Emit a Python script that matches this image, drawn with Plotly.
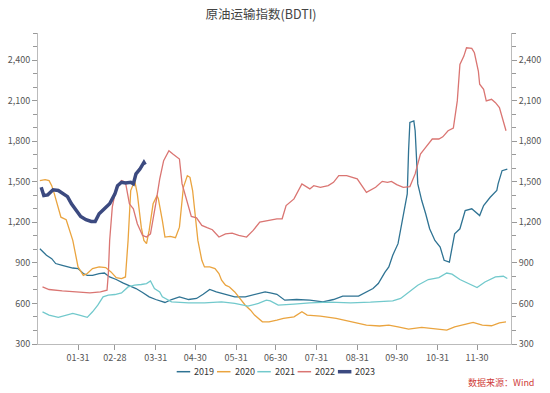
import datetime as dt
import plotly.graph_objects as go

# ---- data (day of year, value) ----
days_2019 = [2, 7, 11, 14, 19, 23, 27, 31, 35, 38, 42, 47, 51, 55, 60, 65, 70, 75, 80, 85, 90, 97, 102, 108, 115,
             121, 126, 131, 136, 143, 150, 158, 165, 173, 177, 182, 188, 197, 207, 217, 225, 232, 244, 250, 255,
             259, 262, 264, 267, 270, 274, 277, 279, 281, 282, 283, 286, 287, 289, 292, 295, 298, 302, 306, 309,
             313, 317, 321, 325, 330, 336, 339, 344, 349, 350, 353, 357]
vals_2019 = [1005, 956, 931, 895, 882, 870, 862, 858, 821, 808, 808, 821, 825, 796, 777, 752, 730, 710, 681, 649,
             629, 607, 629, 649, 629, 637, 668, 703, 685, 668, 649, 649, 668, 685, 678, 668, 624, 629, 624, 612,
             629, 654, 654, 685, 710, 747, 800, 830, 870, 956, 1042, 1189, 1287, 1410, 1729, 1938, 1950, 1877,
             1484, 1361, 1263, 1152, 1066, 1017, 919, 906, 1115, 1152, 1287, 1300, 1250, 1324, 1385, 1435, 1484,
             1582, 1594]

days_2020 = [2, 6, 9, 11, 13, 16, 18, 22, 24, 27, 29, 31, 35, 38, 42, 47, 52, 56, 60, 64, 67, 69, 71, 74, 76, 79,
             81, 83, 85, 88, 91, 92, 95, 97, 101, 105, 108, 111, 114, 116, 118, 120, 122, 125, 127, 131, 135, 138,
             140, 143, 146, 150, 154, 158, 162, 165, 171, 176, 182, 187, 195, 201, 205, 215, 227, 240, 250, 260,
             267, 274, 282, 292, 302, 311, 317, 325, 331, 338, 345, 351, 356]
vals_2020 = [1508, 1515, 1508, 1471, 1410, 1312, 1238, 1219, 1164, 1066, 968, 870, 808, 821, 858, 870, 865, 833,
             791, 784, 796, 1066, 1435, 1508, 1410, 1164, 1066, 1042, 1140, 1337, 1398, 1373, 1214, 1091, 1096,
             1086, 1164, 1459, 1545, 1533, 1435, 1238, 1066, 919, 870, 870, 858, 821, 772, 735, 722, 685, 637,
             587, 550, 514, 464, 464, 477, 489, 501, 538, 514, 506, 489, 464, 440, 433, 440, 427, 410, 423, 410,
             403, 427, 447, 460, 440, 435, 457, 464]

days_2021 = [4, 9, 16, 22, 27, 32, 38, 42, 46, 50, 54, 59, 64, 69, 74, 79, 83, 86, 89, 93, 95, 102, 115, 127, 140,
             150, 160, 168, 174, 177, 181, 183, 195, 207, 222, 238, 253, 264, 270, 276, 282, 289, 297, 305, 311,
             315, 321, 329, 334, 340, 348, 354, 357]
vals_2021 = [538, 514, 497, 514, 526, 514, 497, 538, 587, 649, 661, 666, 678, 722, 735, 740, 747, 766, 710, 685,
             649, 612, 604, 604, 612, 600, 580, 600, 624, 619, 595, 587, 595, 604, 609, 604, 609, 612, 619, 637,
             685, 735, 777, 791, 825, 816, 777, 742, 718, 759, 796, 801, 784]

days_2022 = [4, 9, 19, 30, 40, 48, 53, 54, 55, 57, 60, 64, 67, 70, 73, 76, 80, 83, 86, 90, 93, 96, 100, 103, 108,
             110, 114, 117, 121, 125, 129, 133, 138, 143, 148, 153, 159, 164, 169, 176, 182, 186, 189, 195, 201,
             207, 210, 215, 221, 225, 229, 235, 243, 250, 257, 262, 266, 269, 273, 278, 283, 287, 291, 295, 300,
             305, 308, 312, 316, 319, 321, 324, 326, 330, 332, 335, 336, 339, 341, 345, 348, 351, 353, 356]
vals_2022 = [722, 703, 693, 685, 678, 685, 698, 821, 1066, 1312, 1459, 1508, 1496, 1337, 1300, 1189, 1103, 1091,
             1115, 1337, 1520, 1656, 1729, 1705, 1668, 1484, 1337, 1243, 1233, 1177, 1160, 1145, 1091, 1115, 1120,
             1103, 1091, 1140, 1201, 1214, 1226, 1226, 1324, 1373, 1484, 1447, 1471, 1459, 1471, 1496, 1545, 1545,
             1521, 1422, 1459, 1503, 1496, 1503, 1479, 1459, 1464, 1558, 1705, 1754, 1816, 1816, 1832, 1877, 1897,
             2098, 2368, 2429, 2491, 2486, 2454, 2319, 2221, 2184, 2098, 2110, 2085, 2048, 1975, 1877]

days_2023 = [3, 5, 8, 12, 16, 19, 23, 26, 30, 33, 37, 41, 44, 47, 51, 55, 59, 61, 64, 67, 71, 73, 75, 78, 81, 82]
vals_2023 = [1459, 1398, 1403, 1440, 1435, 1415, 1390, 1337, 1282, 1243, 1219, 1206, 1206, 1263, 1300, 1337, 1410,
             1471, 1496, 1491, 1496, 1484, 1558, 1594, 1643, 1626]

tick_labels = ["01-31", "02-28", "03-31", "04-30", "05-31", "06-30", "07-31", "08-31", "09-30", "10-31", "11-30"]
y_ticks = [300, 600, 900, 1200, 1500, 1800, 2100, 2400]

BASE = dt.datetime(2023, 1, 1)


def to_dates(days):
    return [BASE + dt.timedelta(days=d - 1) for d in days]


series = [
    ("2019", days_2019, vals_2019, "#2f7393", 1.3),
    ("2020", days_2020, vals_2020, "#eaa43f", 1.3),
    ("2021", days_2021, vals_2021, "#72c9cc", 1.3),
    ("2022", days_2022, vals_2022, "#da7572", 1.3),
    ("2023", days_2023, vals_2023, "#3c4a80", 3.5),
]

FONT = "Noto Sans CJK SC, Open Sans, sans-serif"
W, H = 550, 393
ML, MT = 38, 33
PR, PB = 511, 344
MR, MB = W - PR, H - PB
PW, PH = PR - ML, PB - MT


def px_x(p):
    return (p - ML) / PW


def px_y(p):
    return (PB - p) / PH


fig = go.Figure()
for name, d, v, c, w in series:
    fig.add_trace(go.Scatter(x=to_dates(d), y=v, mode="lines", name=name,
                             line=dict(color=c, width=w), showlegend=False))
# invisible trace to show the mirrored right axis
fig.add_trace(go.Scatter(x=to_dates(days_2019), y=vals_2019, yaxis="y2", mode="lines",
                         line=dict(width=0), opacity=0, showlegend=False, hoverinfo="skip"))

tick_dates = [dt.datetime(2023, int(t[:2]), int(t[3:])) for t in tick_labels]

axis_common = dict(range=[300, 2600], tickvals=y_ticks, ticktext=[f"{t:,}" for t in y_ticks],
                   ticks="outside", ticklen=5, tickcolor="#999", showline=True, linecolor="#bbb",
                   linewidth=1, showgrid=False, zeroline=False, automargin=False,
                   tickfont=dict(size=9, color="#555", family=FONT),
                   minor=dict(dtick=100, tick0=300, ticks="outside", ticklen=4, tickcolor="#999",
                              showgrid=False))

# compact legend (symbol line + label) under the plot
shapes, annotations = [], []
leg_y = px_y(371.7)
for i, (name, d, v, c, w) in enumerate(series):
    x0 = 176.7 + i * 40.3
    shapes.append(dict(type="line", xref="paper", yref="paper", x0=px_x(x0), x1=px_x(x0 + 13.5),
                       y0=leg_y, y1=leg_y, line=dict(color=c, width=1.5 if w < 2 else 3.5)))
    annotations.append(dict(text=name, xref="paper", yref="paper", x=px_x(x0 + 15.5), y=leg_y,
                            xanchor="left", yanchor="middle", showarrow=False,
                            font=dict(size=9, color="#333", family=FONT)))

annotations.append(dict(text="数据来源：Wind", xref="paper", yref="paper", x=px_x(536), y=px_y(382),
                        xanchor="right", yanchor="middle", showarrow=False,
                        font=dict(size=9, color="#d0403a", family=FONT)))

fig.update_layout(
    width=W, height=H,
    margin=dict(l=ML, r=MR, t=MT, b=MB),
    paper_bgcolor="white", plot_bgcolor="white",
    title=dict(text="原油运输指数(BDTI)", x=261 / W, xanchor="center", y=1 - 15 / H,
               yanchor="middle", font=dict(size=12.5, color="#444", family=FONT)),
    xaxis=dict(type="date", automargin=False,
               range=[BASE - dt.timedelta(hours=10), BASE + dt.timedelta(days=358, hours=19)],
               tickvals=tick_dates, ticktext=tick_labels, ticks="outside", ticklen=5, tickcolor="#999",
               showline=True, linecolor="#bbb", linewidth=1, showgrid=False, zeroline=False,
               tickfont=dict(size=9, color="#555", family=FONT)),
    yaxis=dict(side="left", **axis_common),
    yaxis2=dict(side="right", overlaying="y", **axis_common),
    showlegend=False,
    shapes=shapes,
    annotations=annotations,
)

# place the figure at the very top-left of the page (no default body margin)
fig.write_html("out.html", config={"displayModeBar": False},
               post_script="document.body.style.margin='0px';")
